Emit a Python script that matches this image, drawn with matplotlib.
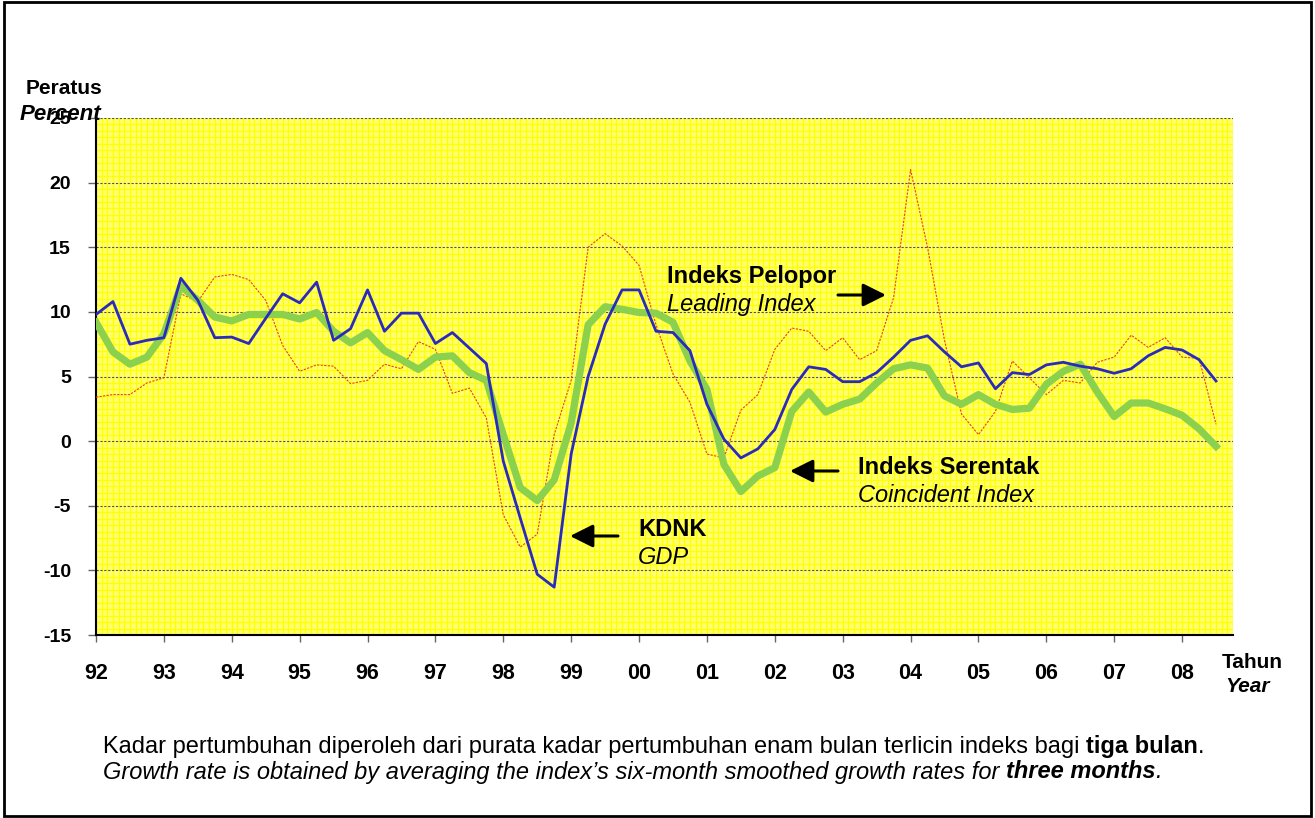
import matplotlib
matplotlib.use('Agg')
import matplotlib.pyplot as plt
from matplotlib.ticker import MultipleLocator
from matplotlib.patches import Rectangle, FancyArrowPatch
import numpy as np

plt.rcParams['font.family'] = ['Liberation Sans', 'DejaVu Sans']

# quarterly data 92Q1 .. 08Q3
year_labels = ['92', '93', '94', '95', '96', '97', '98', '99', '00',
               '01', '02', '03', '04', '05', '06', '07', '08']

gdp = [9.8, 10.8, 7.5, 7.8, 8.0, 12.6, 10.9, 8.0, 8.05, 7.55,
       9.5, 11.4, 10.7, 12.3, 7.8, 8.7, 11.7, 8.5, 9.9, 9.9,
       7.55, 8.4, 7.2, 6.0, -1.55, -5.95, -10.3, -11.3, -1.0, 5.0,
       9.05, 11.7, 11.7, 8.5, 8.4, 7.0, 2.85, 0.15, -1.3, -0.6,
       0.9, 4.0, 5.75, 5.55, 4.6, 4.6, 5.3, 6.5, 7.8, 8.15,
       6.9, 5.75, 6.05, 4.05, 5.3, 5.15, 5.9, 6.1, 5.8, 5.6,
       5.25, 5.6, 6.6, 7.25, 7.05, 6.3, 4.65]

coincident = [9.2, 6.9, 5.95, 6.5, 8.3, 12.0, 10.9, 9.6, 9.3, 9.8,
              9.8, 9.8, 9.45, 9.95, 8.5, 7.6, 8.4, 7.0, 6.3, 5.55,
              6.5, 6.6, 5.3, 4.7, 0.5, -3.6, -4.6, -3.0, 1.4, 9.0,
              10.4, 10.2, 9.95, 9.9, 9.2, 6.2, 4.0, -1.8, -3.9, -2.7,
              -2.05, 2.3, 3.8, 2.25, 2.85, 3.25, 4.5, 5.6, 5.9, 5.65,
              3.5, 2.85, 3.6, 2.85, 2.45, 2.55, 4.4, 5.4, 5.95, 3.8,
              1.9, 2.95, 2.95, 2.5, 2.0, 0.95, -0.4]

leading = [3.4, 3.6, 3.6, 4.5, 4.9, 11.4, 10.8, 12.7, 12.9, 12.5,
           10.9, 7.4, 5.4, 5.9, 5.8, 4.45, 4.7, 5.95, 5.6, 7.7,
           7.1, 3.7, 4.1, 1.8, -5.7, -8.2, -7.2, 0.5, 4.7, 15.0,
           16.05, 15.1, 13.6, 9.0, 5.2, 3.0, -1.0, -1.3, 2.4, 3.6,
           7.1, 8.75, 8.5, 7.0, 8.0, 6.3, 7.0, 11.1, 21.0, 15.0,
           7.8, 2.1, 0.5, 2.3, 6.2, 4.9, 3.6, 4.7, 4.5, 6.1,
           6.5, 8.2, 7.25, 8.0, 6.5, 6.4, 1.3]

W, H = 1315, 818


def px(x, y):
    return x / W, 1 - y / H


fig = plt.figure(figsize=(W / 100, H / 100), dpi=100)
fig.patch.set_facecolor('white')
fig.add_artist(Rectangle((0.003, 0.003), 0.994, 0.994, transform=fig.transFigure,
                         fill=False, edgecolor='black', linewidth=2.0))

l, t = px(96, 118)
r, b = px(1233, 635)
ax = fig.add_axes([l, b, r - l, t - b])
ax.set_facecolor('#FFFF70')

x = np.arange(len(gdp))
ax.plot(x, leading, color='#E8401C', lw=0.8, ls=(0, (2, 1.2)), zorder=3)
ax.plot(x, coincident, color='#8CD14E', lw=5.2, zorder=4)
ax.plot(x, gdp, color='#2A2ABD', lw=2.0, zorder=5)

ax.set_xlim(0, 67)
ax.set_ylim(-15, 25)
ax.set_xticks(np.arange(0, 67, 4))
ax.set_xticklabels(year_labels, fontsize=15.5, fontweight='bold')
ax.set_yticks(np.arange(-15, 26, 5))
ax.set_yticklabels([str(v) for v in range(-15, 26, 5)], fontsize=14, fontweight='bold')
ax.tick_params(axis='x', direction='out', length=5, width=1, color='#666666', pad=15)
ax.tick_params(axis='y', direction='out', length=6, width=1, color='#666666', pad=12)

ax.xaxis.set_minor_locator(MultipleLocator(1 / 3))
ax.yaxis.set_minor_locator(MultipleLocator(0.5))
ax.tick_params(which='minor', length=0)
ax.grid(which='minor', color='#FFFF00', lw=0.9, zorder=0)
ax.grid(which='major', axis='y', color='#5a5040', lw=0.8, ls=(0, (2, 1.5)), zorder=1)
ax.grid(which='major', axis='x', color='#FFFF00', lw=0.9, zorder=0)
ax.set_axisbelow(True)
for s in ['top', 'right']:
    ax.spines[s].set_visible(False)
ax.spines['left'].set_linewidth(1.5)
ax.spines['bottom'].set_linewidth(1.5)

# axis titles
fig.text(*px(26, 88), 'Peratus', fontsize=15, fontweight='bold', va='center', ha='left')
fig.text(*px(20, 115), 'Percent', fontsize=16, fontweight='bold', style='italic',
         va='center', ha='left')
fig.text(*px(1222, 662), 'Tahun', fontsize=15, fontweight='bold', va='center', ha='left')
fig.text(*px(1225, 687), 'Year', fontsize=15, fontweight='bold', style='italic',
         va='center', ha='left')

# series labels
fig.text(*px(667, 276), 'Indeks Pelopor', fontsize=17, fontweight='bold', va='center')
fig.text(*px(667, 304), 'Leading Index', fontsize=17, style='italic', va='center')
fig.text(*px(858, 467), 'Indeks Serentak', fontsize=17, fontweight='bold', va='center')
fig.text(*px(858, 496), 'Coincident Index', fontsize=17, style='italic', va='center')
fig.text(*px(638, 529), 'KDNK', fontsize=17, fontweight='bold', va='center')
fig.text(*px(638, 557), 'GDP', fontsize=17, style='italic', va='center')

arrows = [((838, 295), (886, 295)),
          ((838, 471), (790, 471)),
          ((618, 536), (570, 536))]
for (x0, y0), (x1, y1) in arrows:
    fig.add_artist(FancyArrowPatch(
        px(x0, y0), px(x1, y1), transform=fig.transFigure,
        arrowstyle='-|>,head_length=14,head_width=7', color='black', lw=2.2,
        shrinkA=0, shrinkB=0, mutation_scale=1))

# caption with mixed styles
renderer = fig.canvas.get_renderer()


def draw_runs(x0, y0, runs, size=17):
    xx = x0
    for txt, weight, style in runs:
        tt = fig.text(*px(xx, y0), txt, fontsize=size, fontweight=weight, style=style,
                      va='center', ha='left')
        bb = tt.get_window_extent(renderer)
        xx += bb.width


draw_runs(103, 747, [
    ('Kadar pertumbuhan diperoleh dari purata kadar pertumbuhan enam bulan terlicin indeks bagi ',
     'normal', 'normal'),
    ('tiga bulan', 'bold', 'normal'),
    ('.', 'normal', 'normal')])
draw_runs(103, 772, [
    ('Growth rate is obtained by averaging the index\u2019s six-month smoothed growth rates for ',
     'normal', 'italic'),
    ('three months', 'bold', 'italic'),
    ('.', 'normal', 'italic')])

fig.savefig('out.png', dpi=100)
